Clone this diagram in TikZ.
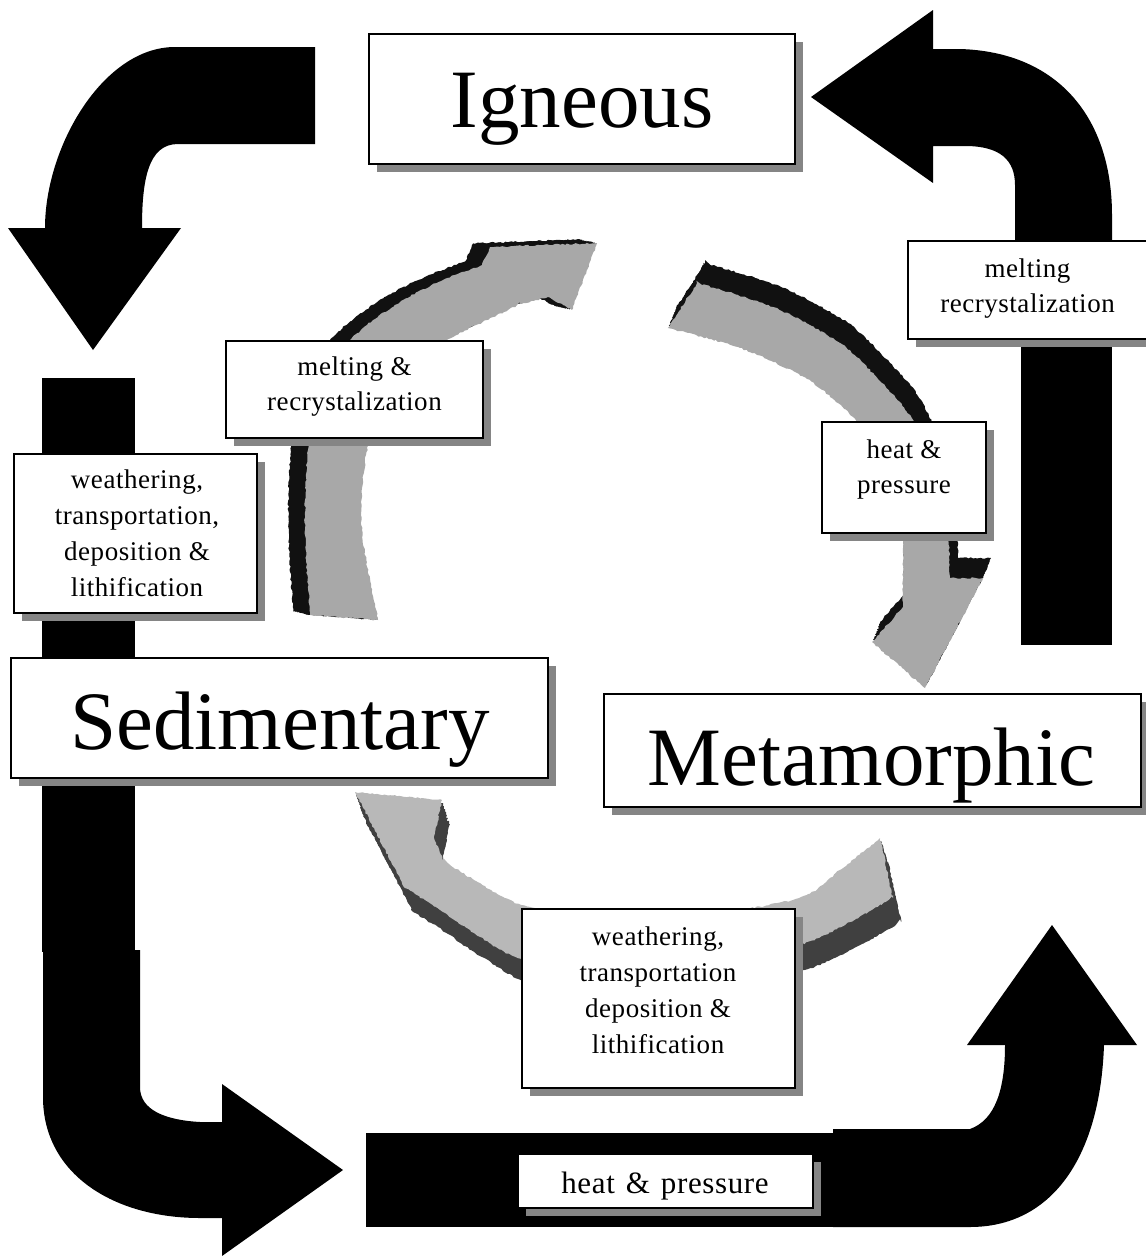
\documentclass[tikz,border=0pt]{standalone}
\usepackage{fontspec}
\setmainfont{Liberation Serif}
\newfontfamily\lblfont[LetterSpace=2]{Liberation Serif}
\newcommand\hpwidefont{\lblfont\fontsize{31}{36}\selectfont\spaceskip=11pt\relax}
\usetikzlibrary{shadows,decorations.pathmorphing}
\definecolor{gface}{HTML}{A8A8A8}
\definecolor{gside}{HTML}{111111}
\definecolor{gfaceb}{HTML}{B8B8B8}
\definecolor{gsideb}{HTML}{404040}
\definecolor{shadowgray}{HTML}{858585}
\tikzset{
  bigarrow/.style={fill=black},
  rough/.style={decorate, decoration={random steps, segment length=2.5pt, amplitude=0.8pt}},
  rockbox/.style={draw=black, line width=1.4pt, fill=white, inner sep=0pt,
    general shadow={fill=shadowgray, shadow xshift=8pt, shadow yshift=-8pt}},
  bigtxt/.style={font=\fontsize{83}{90}\selectfont, inner sep=0pt},
  smalltxt/.style={font=\lblfont\fontsize{27}{35.5}\selectfont, align=center, inner sep=0pt},
  smalltxtb/.style={font=\lblfont\fontsize{27}{36}\selectfont, align=center, inner sep=0pt},
  widetxt/.style={font=\hpwidefont, inner sep=0pt},
  arcone/.style={insert path={plot[smooth] coordinates {(310,615) (305,530) (308,450) (318,395) (340,352) (367,325) (403,300) (443,280) (482,265)} -- (490,247) -- (597,243) -- (572,310) -- (548,297) -- plot[smooth] coordinates {(520,304) (487,320) (447,340) (410,367) (382,410) (366,455) (362,530) (378,620)} -- cycle}},
  arcthree/.style={insert path={plot[smooth] coordinates {(697,283) (773,307) (840,343) (882,383) (913,420) (935,470) (947,520) (950,578)} -- (983,578) -- (925,688) -- (872,642) -- (903,607) -- plot[smooth] coordinates {(903,543) (895,485) (877,445) (853,417) (807,379) (740,348) (668,328)} -- cycle}},
  arctwo/.style={insert path={plot[smooth] coordinates {(893,898) (850,922) (800,945) (700,972) (600,975) (522,960) (474,933) (440,910) (425,900)} -- (405,888) -- (355,792) -- (442,800) -- (434,838) -- plot[smooth] coordinates {(443,860) (474,880) (522,905) (600,915) (700,915) (799,898) (840,870) (880,838)} -- cycle}},
}
\begin{document}
\begin{tikzpicture}[x=1pt,y=-1pt]
\pgfmathsetseed{7}
\useasboundingbox (0,0) rectangle (1146,1256);
\fill[white] (0,0) rectangle (1146,1256);
% big black arrows of the outer cycle
\fill[bigarrow] (315,47) -- (175,47) .. controls (103,47) and (45,147) .. (45,228) -- (8,228) -- (93,350) -- (181,228) -- (142,228) .. controls (142,180) and (148,144) .. (178,144) -- (315,144) -- cycle;
\fill[bigarrow] (811,97) -- (933,10) -- (933,49) -- (960,49) .. controls (1060,52) and (1112,120) .. (1112,215) -- (1112,345) -- (1015,345) -- (1015,185) .. controls (1015,160) and (1000,146) .. (965,146) -- (933,146) -- (933,183) -- cycle;
\fill[bigarrow] (1021,340) rectangle (1112,645);
\fill[bigarrow] (42,378) rectangle (135,952);
\fill[bigarrow] (43,950) -- (43,1097) .. controls (43,1175) and (115,1218) .. (200,1218) -- (222,1218) -- (222,1256) -- (343,1170) -- (222,1084) -- (222,1122) -- (200,1122) .. controls (165,1120) and (140,1110) .. (140,1087) -- (140,950) -- cycle;
\fill[bigarrow] (366,1133) rectangle (833,1227);
\fill[bigarrow] (833,1129) -- (970,1129) .. controls (995,1120) and (1005,1090) .. (1005,1045) -- (967,1045) -- (1052,925) -- (1137,1045) -- (1104,1045) .. controls (1100,1160) and (1050,1227) .. (970,1227) -- (833,1227) -- cycle;
% grey arrows of the inner cycle
\foreach \k in {1,...,8} {\fill[gside, rough, shift={(-2.1*\k,-0.45*\k)}, arcone];}
\fill[gface, rough, arcone];
\foreach \k in {1,...,8} {\fill[gside, rough, shift={(1*\k,-2.5*\k)}, arcthree];}
\fill[gface, rough, arcthree];
\foreach \k in {1,...,8} {\fill[gsideb, rough, shift={(1*\k,3*\k)}, arctwo];}
\fill[gfaceb, rough, arctwo];
% rock boxes
\node[rockbox, minimum width=426pt, minimum height=130pt] (ign) at (582,99) {};
\node[bigtxt, anchor=base] (ignt) at (582,127) {Igneous};
\node[rockbox, minimum width=537pt, minimum height=120pt] (sed) at (279.5,718) {};
\node[bigtxt, anchor=base] (sedt) at (280,749) {Sedimentary};
\node[rockbox, minimum width=537pt, minimum height=113pt] (met) at (872.5,750.5) {};
\node[bigtxt, anchor=base] (mett) at (871.5,785) {Metamorphic};
% process boxes
\node[rockbox, minimum width=257pt, minimum height=97pt] (l1) at (354.5,389.5) {};
\node[smalltxt] (l1t) at (354.5,386.5) {melting \&\\recrystalization};
\node[rockbox, minimum width=243pt, minimum height=159pt] (l2) at (135.5,533.5) {};
\node[smalltxtb] (l2t) at (137,533.5) {weathering,\\transportation,\\deposition \&\\lithification};
\node[rockbox, minimum width=242pt, minimum height=98pt] (l3) at (1029,290) {};
\node[smalltxt] (l3t) at (1027.5,288.5) {melting\\recrystalization};
\node[rockbox, minimum width=164pt, minimum height=111pt] (l4) at (904,477.5) {};
\node[smalltxt] (l4t) at (904,469.5) {heat \&\\pressure};
\node[rockbox, minimum width=273pt, minimum height=179pt] (l5) at (658.5,998.5) {};
\node[smalltxtb] (l5t) at (658,990) {weathering,\\transportation\\deposition \&\\lithification};
\node[rockbox, minimum width=295pt, minimum height=54pt] (l6) at (665.5,1181) {};
\node[widetxt, anchor=base] (l6t) at (665,1193) {heat \& pressure};
\end{tikzpicture}
\end{document}
